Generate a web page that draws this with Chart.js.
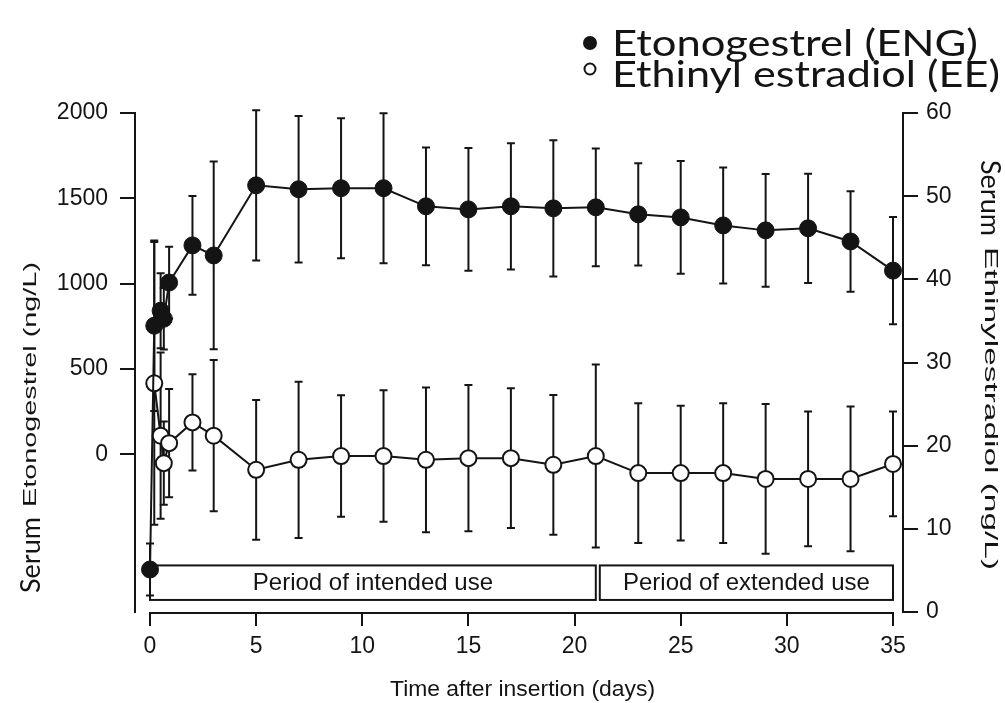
<!DOCTYPE html>
<html>
<head>
<meta charset="utf-8">
<script src="https://cdn.jsdelivr.net/npm/chart.js@4.4.1/dist/chart.umd.min.js"></script>
<style>
    html, body { margin: 0; padding: 0; background: #fff; }
    #wrap { width: 1005px; height: 703px; }
</style>
</head>
<body>
<div id="wrap"><canvas id="pkChart" width="1005" height="703"></canvas></div>
<script>
// Data
const engDays = [0, 0.2, 0.5, 0.65, 0.9, 2, 3, 5, 7, 9, 11, 13, 15, 17, 19, 21, 23, 25, 27, 29, 31, 33, 35];
const engMean = [-676, 753, 841, 794, 1006, 1224, 1165, 1576, 1553, 1559, 1559, 1453, 1435, 1453, 1441, 1447, 1406, 1388, 1341, 1312, 1324, 1247, 1076];
const engSd = [152, 500, 220, 180, 210, 290, 550, 440, 430, 410, 440, 345, 360, 370, 400, 345, 300, 330, 340, 330, 320, 295, 315];

const eeDays = [0.2, 0.5, 0.65, 0.9, 2, 3, 5, 7, 9, 11, 13, 15, 17, 19, 21, 23, 25, 27, 29, 31, 33, 35];
const eeMean = [27.5, 21.2, 17.9, 20.3, 22.8, 21.2, 17.1, 18.3, 18.75, 18.75, 18.3, 18.5, 18.5, 17.7, 18.75, 16.7, 16.7, 16.7, 16.0, 16.0, 16.0, 17.8];
const eeSd = [17, 10, 5, 6.5, 5.8, 9.1, 8.4, 9.4, 7.3, 7.9, 8.7, 8.8, 8.4, 8.4, 11, 8.4, 8.1, 8.4, 9, 8.1, 8.7, 6.3];

const xTicks = [0, 5, 10, 15, 20, 25, 30, 35];
const engTicks = [0, 500, 1000, 1500, 2000];
const eeTicks = [0, 10, 20, 30, 40, 50, 60];

const periodLabels = ['Period of intended use', 'Period of extended use'];
const periodRanges = [[0, 21], [21, 35]];

const seriesLabels = ['Etonogestrel (ENG)', 'Ethinyl estradiol (EE)'];

const ARIAL = '"Liberation Sans", Arial, sans-serif';
const CALIBRI = 'Lato, "Open Sans", sans-serif';
const INK = '#141414';

// draw text squeezed/stretched to a given length (the source figure's fonts are wide)
function fitText(ctx, text, x, y, width) {
    const w = ctx.measureText(text).width;
    ctx.save();
    ctx.translate(x, y);
    ctx.scale(width / w, 1);
    ctx.fillText(text, 0, 0);
    ctx.restore();
}

// period boxes behind everything
const periodBoxes = {
    id: 'periodBoxes',
    beforeDatasetsDraw(chart) {
        const ctx = chart.ctx;
        const x = chart.scales.x, yR = chart.scales.yR;
        const top = yR.getPixelForValue(5.6);
        const bottom = yR.getPixelForValue(1.45);
        ctx.save();
        ctx.strokeStyle = INK;
        ctx.lineWidth = 2;
        ctx.font = '24px ' + ARIAL;
        ctx.textAlign = 'center';
        ctx.textBaseline = 'middle';
        periodRanges.forEach((r, i) => {
            const left = x.getPixelForValue(r[0]) + (i > 0 ? 4 : 0);
            const right = x.getPixelForValue(r[1]);
            ctx.fillStyle = '#fff';
            ctx.fillRect(left, top, right - left, bottom - top);
            ctx.strokeRect(left, top, right - left, bottom - top);
            ctx.fillStyle = INK;
            ctx.fillText(periodLabels[i], (left + right) / 2, (top + bottom) / 2 + 1);
        });
        ctx.restore();
    }
};

// mean +/- SD bars
const errorBars = {
    id: 'errorBars',
    beforeDatasetsDraw(chart) {
        const ctx = chart.ctx;
        const x = chart.scales.x;
        ctx.save();
        ctx.strokeStyle = INK;
        ctx.lineWidth = 2;
        chart.data.datasets.forEach(ds => {
            const y = chart.scales[ds.yAxisID];
            ds.data.forEach((p, i) => {
                const px = x.getPixelForValue(p.x);
                const top = y.getPixelForValue(p.y + ds.sd[i]);
                const bot = y.getPixelForValue(p.y - ds.sd[i]);
                ctx.beginPath();
                ctx.moveTo(px, top); ctx.lineTo(px, bot);
                ctx.moveTo(px - 4, top); ctx.lineTo(px + 4, top);
                ctx.moveTo(px - 4, bot); ctx.lineTo(px + 4, bot);
                ctx.stroke();
            });
        });
        ctx.restore();
    }
};

// x axis line only spans 0..35, axis titles and legend
const decorations = {
    id: 'decorations',
    afterDraw(chart) {
        const ctx = chart.ctx;
        const x = chart.scales.x;
        const area = chart.chartArea;
        ctx.save();
        ctx.strokeStyle = INK;
        ctx.lineWidth = 2;
        ctx.beginPath();
        ctx.moveTo(x.getPixelForValue(0) - 1, area.bottom + 1);
        ctx.lineTo(x.getPixelForValue(35) + 1, area.bottom + 1);
        ctx.stroke();

        ctx.fillStyle = INK;
        ctx.textBaseline = 'middle';
        ctx.textAlign = 'left';

        // x title
        ctx.font = '22px ' + ARIAL;
        fitText(ctx, 'Time after insertion (days)', 390, 690, 265);

        // left title, reads bottom to top
        ctx.save();
        ctx.translate(31, 593);
        ctx.rotate(-Math.PI / 2);
        ctx.font = '27px ' + CALIBRI;
        ctx.fillText('Serum', 0, 0);
        let w = ctx.measureText('Serum').width + 10;
        ctx.font = '19px ' + ARIAL;
        fitText(ctx, 'Etonogestrel (ng/L)', w, 0, 331 - w);
        ctx.restore();

        // right title, reads top to bottom
        ctx.save();
        ctx.translate(990, 160);
        ctx.rotate(Math.PI / 2);
        ctx.font = '27px ' + CALIBRI;
        ctx.fillText('Serum', 0, 0);
        w = ctx.measureText('Serum').width + 11;
        ctx.font = '19px ' + ARIAL;
        fitText(ctx, 'Ethinylestradiol (ng/L)', w, 0, 410 - w);
        ctx.restore();

        // legend
        ctx.font = '37px ' + CALIBRI;
        ctx.textBaseline = 'alphabetic';
        ctx.beginPath();
        ctx.arc(590, 43, 7, 0, Math.PI * 2);
        ctx.fill();
        fitText(ctx, seriesLabels[0], 612, 56, 366);
        ctx.beginPath();
        ctx.arc(590, 69, 5.5, 0, Math.PI * 2);
        ctx.lineWidth = 2;
        ctx.stroke();
        fitText(ctx, seriesLabels[1], 612, 87, 388);
        ctx.restore();
    }
};

const tickFont = { family: ARIAL, size: 23 };
const plainNumber = v => String(v);

const ctx = document.getElementById('pkChart').getContext('2d');
const pkChart = new Chart(ctx, {
    type: 'line',
    data: {
        datasets: [{
            label: seriesLabels[0],
            data: engDays.map((d, i) => ({ x: d, y: engMean[i] })),
            sd: engSd,
            yAxisID: 'yL',
            borderColor: INK,
            borderWidth: 2,
            pointRadius: 8.5,
            pointBackgroundColor: INK,
            pointBorderColor: INK,
            pointBorderWidth: 1,
            tension: 0,
            clip: false
        }, {
            label: seriesLabels[1],
            data: eeDays.map((d, i) => ({ x: d, y: eeMean[i] })),
            sd: eeSd,
            yAxisID: 'yR',
            borderColor: INK,
            borderWidth: 2,
            pointRadius: 8,
            pointBackgroundColor: '#fff',
            pointBorderColor: INK,
            pointBorderWidth: 2,
            tension: 0,
            clip: false
        }]
    },
    options: {
        responsive: false,
        animation: false,
        devicePixelRatio: 1,
        layout: { padding: { top: 113, left: 0, right: 0, bottom: 0 } },
        plugins: {
            legend: { display: false },
            tooltip: { enabled: false }
        },
        scales: {
            x: {
                type: 'linear',
                min: -0.707,
                max: 35.471,
                afterBuildTicks: s => { s.ticks = xTicks.map(v => ({ value: v })); },
                afterFit: s => { s.height = 91; },
                grid: { drawOnChartArea: false, color: INK, lineWidth: 2, tickLength: 14 },
                border: { display: false },
                ticks: { color: INK, font: tickFont, padding: 7, maxRotation: 0, autoSkip: false, callback: plainNumber }
            },
            yL: {
                type: 'linear',
                position: 'left',
                min: -925,
                max: 2000,
                afterBuildTicks: s => { s.ticks = engTicks.map(v => ({ value: v })); },
                afterFit: s => { s.width = 135; },
                grid: { drawOnChartArea: false, color: INK, lineWidth: 2, tickLength: 15 },
                border: { display: true, color: INK, width: 2 },
                ticks: { color: INK, font: tickFont, padding: 12, callback: plainNumber }
            },
            yR: {
                type: 'linear',
                position: 'right',
                min: 0,
                max: 60,
                afterBuildTicks: s => { s.ticks = eeTicks.map(v => ({ value: v })); },
                afterFit: s => { s.width = 102; },
                grid: { drawOnChartArea: false, color: INK, lineWidth: 2, tickLength: 15 },
                border: { display: true, color: INK, width: 2 },
                ticks: { color: INK, font: tickFont, padding: 8, callback: plainNumber }
            }
        }
    },
    plugins: [periodBoxes, errorBars, decorations]
});
</script>
</body>
</html>
